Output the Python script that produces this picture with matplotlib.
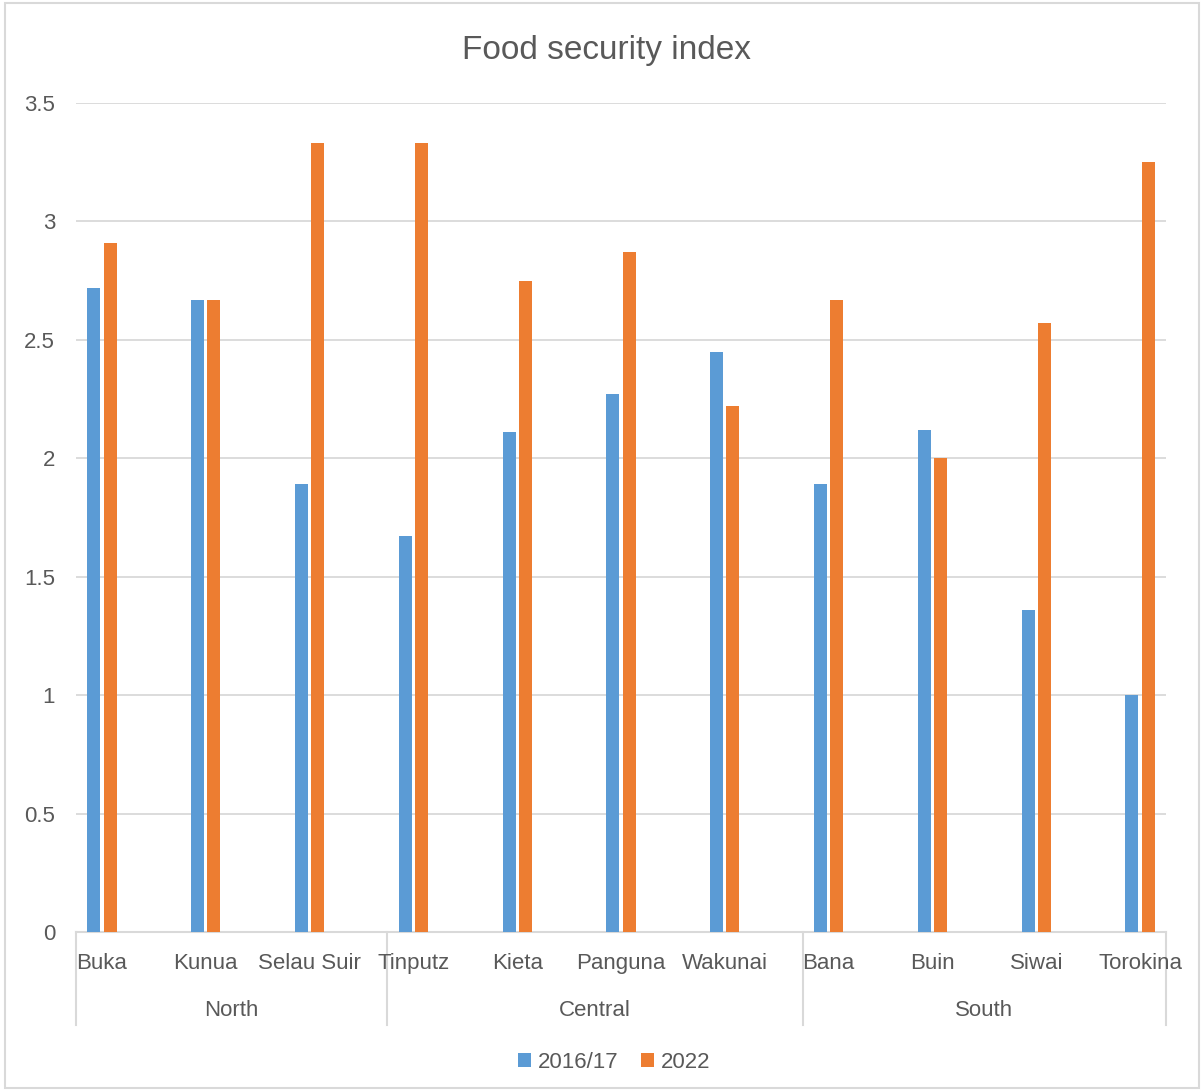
import matplotlib
matplotlib.use("Agg")
import matplotlib.pyplot as plt
import matplotlib.transforms as mtransforms
from matplotlib.patches import Rectangle
import numpy as np

plt.rcParams['font.family'] = ['Liberation Sans', 'DejaVu Sans']

title = "Food security index"
districts = ["Buka", "Kunua", "Selau Suir", "Tinputz", "Kieta", "Panguna",
             "Wakunai", "Bana", "Buin", "Siwai", "Torokina"]
regions = ["North", "Central", "South"]
region_sizes = [3, 4, 4]
series_names = ["2016/17", "2022"]
vals_2016 = [2.72, 2.67, 1.89, 1.67, 2.11, 2.27, 2.45, 1.89, 2.12, 1.36, 1.00]
vals_2022 = [2.91, 2.67, 3.33, 3.33, 2.75, 2.87, 2.22, 2.67, 2.00, 2.57, 3.25]
yticks = [0, 0.5, 1, 1.5, 2, 2.5, 3, 3.5]
ytick_labels = ["0", "0.5", "1", "1.5", "2", "2.5", "3", "3.5"]

blue = "#5B9BD5"
orange = "#ED7D31"
txt = "#595959"
grid = "#D9D9D9"

W, H = 1202, 1091
fig = plt.figure(figsize=(W / 100, H / 100), dpi=100)
ax = fig.add_axes([76 / W, (H - 932) / H, 1090 / W, 829 / H])

x = np.arange(len(districts))
bw = 0.125
off = 0.078
ax.bar(x - off, vals_2016, width=bw, color=blue, label=series_names[0], zorder=3)
ax.bar(x + off, vals_2022, width=bw, color=orange, label=series_names[1], zorder=3)

ax.set_xlim(-0.25, len(districts) - 0.75)
ax.set_ylim(0, 3.5)
ax.set_yticks(yticks)
ax.set_yticklabels(ytick_labels)
ax.yaxis.grid(True, color=grid, linewidth=1.3, zorder=0)
ax.set_axisbelow(True)
ax.tick_params(axis='y', length=0, pad=15, labelsize=16, labelcolor=txt)
ax.set_xticks([])
for s in ["top", "right", "left"]:
    ax.spines[s].set_visible(False)
ax.spines["bottom"].set_color(grid)
ax.spines["bottom"].set_linewidth(1.5)

trans = mtransforms.blended_transform_factory(ax.transData, ax.transAxes)
for xi, name in zip(x, districts):
    ax.text(xi, -0.0385, name, transform=trans, ha='center', va='center',
            fontsize=16, color=txt)

# group separators and labels
bounds = np.concatenate([[0], np.cumsum(region_sizes)]) - 0.25
bounds[-1] = len(districts) - 0.75
for b in bounds:
    ax.plot([b, b], [0, -0.112], transform=trans, color=grid,
            linewidth=1.5, clip_on=False)
for i, r in enumerate(regions):
    c = (bounds[i] + bounds[i + 1]) / 2
    ax.text(c, -0.0952, r, transform=trans, ha='center', va='center',
            fontsize=16, color=txt)

fig.text(606 / W, (H - 50) / H, title, ha='center', va='center', fontsize=24, color=txt)

fig.legend(loc='center', bbox_to_anchor=(614 / W, (H - 1062) / H), ncol=2,
           frameon=False, fontsize=16, handlelength=0.6, handleheight=0.6,
           handletextpad=0.3, columnspacing=1.0, labelcolor=txt)

fig.patches.append(Rectangle((5 / W, 3 / H), 1 - 8 / W, 1 - 6 / H,
                             transform=fig.transFigure, fill=False,
                             edgecolor=grid, linewidth=1.5))

fig.savefig("out.png", dpi=100)
